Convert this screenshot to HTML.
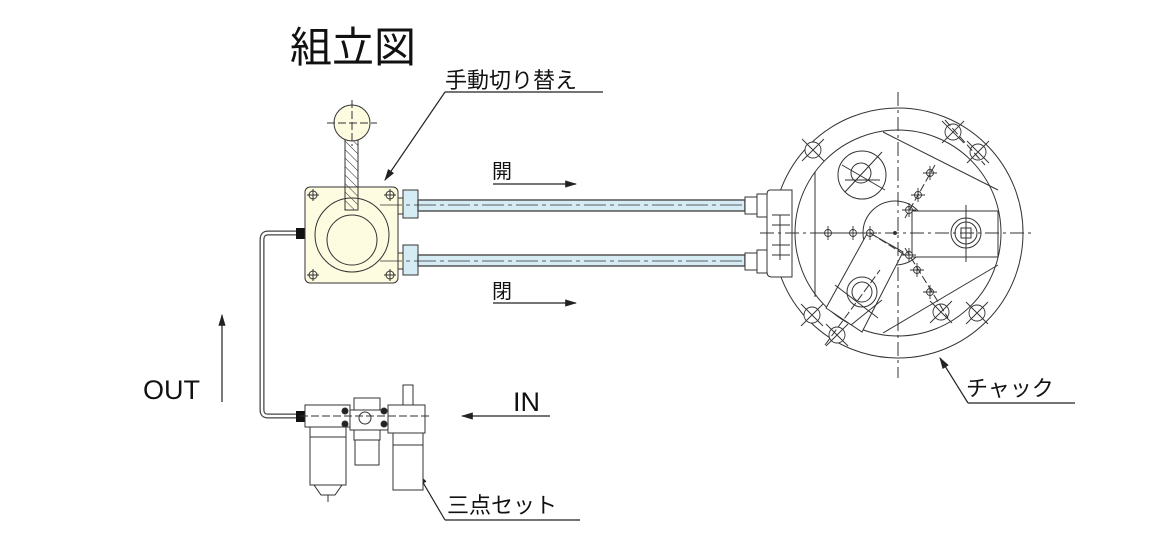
<!DOCTYPE html>
<html><head><meta charset="utf-8"><style>
html,body{margin:0;padding:0;background:#fff;width:1170px;height:549px;overflow:hidden}
svg{display:block}
text{font-family:"Liberation Sans","Noto Sans CJK JP",sans-serif;fill:#111}
</style></head><body>
<svg width="1170" height="549" viewBox="0 0 1170 549" xmlns="http://www.w3.org/2000/svg">
<defs>
<pattern id="hatch" width="6" height="6" patternUnits="userSpaceOnUse" patternTransform="rotate(-45)">
<line x1="0" y1="0" x2="0" y2="6" stroke="#333" stroke-width="1"/></pattern>
<marker id="ah" markerWidth="10" markerHeight="6" refX="9" refY="3" orient="auto"><path d="M0,0 L10,3 L0,6 z" fill="#222"/></marker>
<g id="hole"><circle cx="0" cy="0" r="8" fill="#fff"/><path d="M-11,-11 L11,11 M-11,11 L11,-11" /></g>
<g id="sh"><circle cx="0" cy="0" r="3.5" fill="#fff"/><path d="M-7,0 H7 M0,-7 V7"/></g>
</defs>
<text x="290" y="62" font-size="42">組立図</text>
<text x="445" y="88" font-size="22">手動切り替え</text>
<text x="492" y="178" font-size="20">開</text>
<text x="492" y="298" font-size="20">閉</text>
<text x="143" y="399" font-size="27">OUT</text>
<text x="513" y="411" font-size="27">IN</text>
<text x="966" y="396" font-size="22">チャック</text>
<text x="447" y="513" font-size="22">三点セット</text>
<g stroke="#222" stroke-width="1.2" fill="none">
<line x1="445" y1="92" x2="603" y2="92"/>
<line x1="445" y1="92" x2="385" y2="180" marker-end="url(#ah)"/>
<line x1="493" y1="184" x2="576" y2="184" marker-end="url(#ah)"/>
<line x1="493" y1="303" x2="576" y2="303" marker-end="url(#ah)"/>
<line x1="222" y1="402" x2="222" y2="315" marker-end="url(#ah)"/>
<line x1="550" y1="416" x2="462" y2="416" marker-end="url(#ah)"/>
<line x1="968" y1="403" x2="1075" y2="403"/>
<line x1="968" y1="403" x2="940" y2="358" marker-end="url(#ah)"/>
<line x1="445" y1="520" x2="580" y2="520"/>
<line x1="445" y1="520" x2="418" y2="474" marker-end="url(#ah)"/>
</g>
<path d="M300,233 H268 Q262,233 262,240 V410 Q262,416 268,416 H300" stroke="#444" stroke-width="5" fill="none"/>
<path d="M300,233 H268 Q262,233 262,240 V410 Q262,416 268,416 H300" stroke="#fff" stroke-width="2.5" fill="none"/>
<rect x="296" y="228" width="9" height="11" fill="#111"/>
<rect x="296" y="411" width="9" height="11" fill="#111"/>
<g stroke="#333" stroke-width="1">
<rect x="305" y="187" width="93" height="96" rx="5" fill="#fdfbe0"/>
<circle cx="352" cy="235" r="37" fill="#fdfbe0"/>
<circle cx="352" cy="240" r="25" fill="#fdfbe0"/>
<rect x="345" y="138" width="13" height="72" fill="url(#hatch)"/>
<circle cx="352" cy="123" r="18" fill="#fdfbe0"/>
<line x1="327" y1="123" x2="377" y2="123" stroke-dasharray="8,3"/>
<line x1="352" y1="100" x2="352" y2="146" stroke-dasharray="8,3"/>
<g fill="none">
<circle cx="313" cy="195" r="4"/><circle cx="390" cy="195" r="4"/>
<circle cx="313" cy="275" r="4"/><circle cx="390" cy="275" r="4"/>
<path d="M307,195h12M313,189v12M384,195h12M390,189v12M307,275h12M313,269v12M384,275h12M390,269v12"/>
</g>
<rect x="398" y="198" width="5" height="16" fill="#fdfbe0"/>
<rect x="398" y="253" width="5" height="16" fill="#fdfbe0"/>
<rect x="403" y="190" width="15" height="28" fill="#d6ecf5"/>
<rect x="403" y="245" width="15" height="30" fill="#d6ecf5"/>
<rect x="418" y="200" width="327" height="11" fill="#d6ecf5" stroke="#555" stroke-width="1.5"/>
<rect x="418" y="255" width="327" height="11" fill="#d6ecf5" stroke="#555" stroke-width="1.5"/>
<line x1="380" y1="205" x2="790" y2="205" stroke-dasharray="22,4,4,4" stroke-width="0.8"/>
<line x1="380" y1="261" x2="790" y2="261" stroke-dasharray="22,4,4,4" stroke-width="0.8"/>
<rect x="745" y="197" width="12" height="17" fill="#fff"/>
<rect x="757" y="194" width="10" height="23" fill="#fff"/>
<rect x="745" y="253" width="12" height="17" fill="#fff"/>
<rect x="757" y="250" width="10" height="23" fill="#fff"/>
</g>
<!-- chuck -->
<g stroke="#333" stroke-width="1" fill="none">
<circle cx="898" cy="233" r="125" fill="#fff"/>
<circle cx="898" cy="233" r="103"/>
<path d="M770,190 Q767,190 767,195 V272 Q767,277 772,277 H792 V190 Z" fill="#fff"/>
<path d="M772,215h18M772,225h18M772,245h18M772,255h18M780,215v45"/>
<line x1="815" y1="172" x2="815" y2="297"/>
<line x1="883" y1="132" x2="998" y2="190"/>
<line x1="998" y1="265" x2="883" y2="333"/>
<circle cx="862" cy="175" r="24"/>
<circle cx="861" cy="173" r="10"/>
<path d="M842,165 L885,190 M845,192 L882,152 M845,180 L880,180"/>
<circle cx="895" cy="233" r="32" fill="#fff"/>
<rect x="912" y="211" width="86" height="46" fill="#fff"/>
<circle cx="966" cy="233" r="15"/><circle cx="966" cy="233" r="11"/>
<rect x="961" y="228" width="10" height="10"/>
<line x1="966" y1="205" x2="966" y2="262"/>
<path d="M826,308 L862,332 L903,252 L868,232 Z" fill="#fff"/>
<path d="M835,285 L878,318 M851,325 L882,300"/>
<circle cx="862" cy="292" r="15"/><circle cx="862" cy="292" r="10"/>
<g stroke-width="0.9">
<use href="#sh" x="828" y="233"/><use href="#sh" x="853" y="233"/><use href="#sh" x="870" y="233"/>
<circle cx="895" cy="233" r="1.5" fill="#333"/>
<use href="#sh" x="930" y="173"/><use href="#sh" x="918" y="195"/><use href="#sh" x="909" y="210"/>
<use href="#sh" x="909" y="255"/><use href="#sh" x="917" y="270"/><use href="#sh" x="930" y="292"/>
<use href="#hole" x="813" y="150"/><use href="#hole" x="953" y="132"/><use href="#hole" x="978" y="152"/>
<use href="#hole" x="812" y="315"/><use href="#hole" x="977" y="313"/><use href="#hole" x="837" y="335"/>
<use href="#hole" x="941" y="312"/>
</g>
<line x1="898" y1="92" x2="898" y2="378" stroke-dasharray="14,4,3,4"/>
<line x1="760" y1="233" x2="1035" y2="233" stroke-dasharray="14,4,3,4"/>
<line x1="935" y1="165" x2="905" y2="218" stroke-dasharray="8,3"/>
<line x1="905" y1="248" x2="948" y2="318" stroke-dasharray="8,3"/>
<line x1="870" y1="233" x2="905" y2="255" stroke-dasharray="8,3"/>
<line x1="945" y1="120" x2="985" y2="165" stroke-dasharray="8,3"/>
<line x1="825" y1="345" x2="880" y2="270" stroke-dasharray="8,3"/>
</g>
<!-- FRL -->
<g stroke="#333" stroke-width="1" fill="#fff">
<rect x="305" y="405" width="45" height="22"/>
<rect x="310" y="427" width="36" height="10"/>
<rect x="310" y="437" width="36" height="48"/>
<path d="M314,485 L342,485 L335,495 L321,495 Z"/>
<line x1="328" y1="495" x2="328" y2="502"/>
<rect x="350" y="410" width="38" height="20"/>
<rect x="354" y="398" width="26" height="12"/>
<rect x="354" y="430" width="26" height="10"/>
<rect x="355" y="440" width="24" height="25"/>
<circle cx="365" cy="418" r="6"/>
<rect x="388" y="405" width="37" height="28"/>
<rect x="403" y="385" width="10" height="20"/>
<rect x="393" y="433" width="30" height="12"/>
<rect x="393" y="445" width="30" height="45"/>
<line x1="300" y1="416" x2="430" y2="416" stroke-dasharray="8,3" fill="none"/>
<g fill="#222"><circle cx="345" cy="411" r="3"/><circle cx="345" cy="424" r="3"/><circle cx="384" cy="411" r="3"/><circle cx="384" cy="424" r="3"/></g>
</g>
</svg>
</body></html>
